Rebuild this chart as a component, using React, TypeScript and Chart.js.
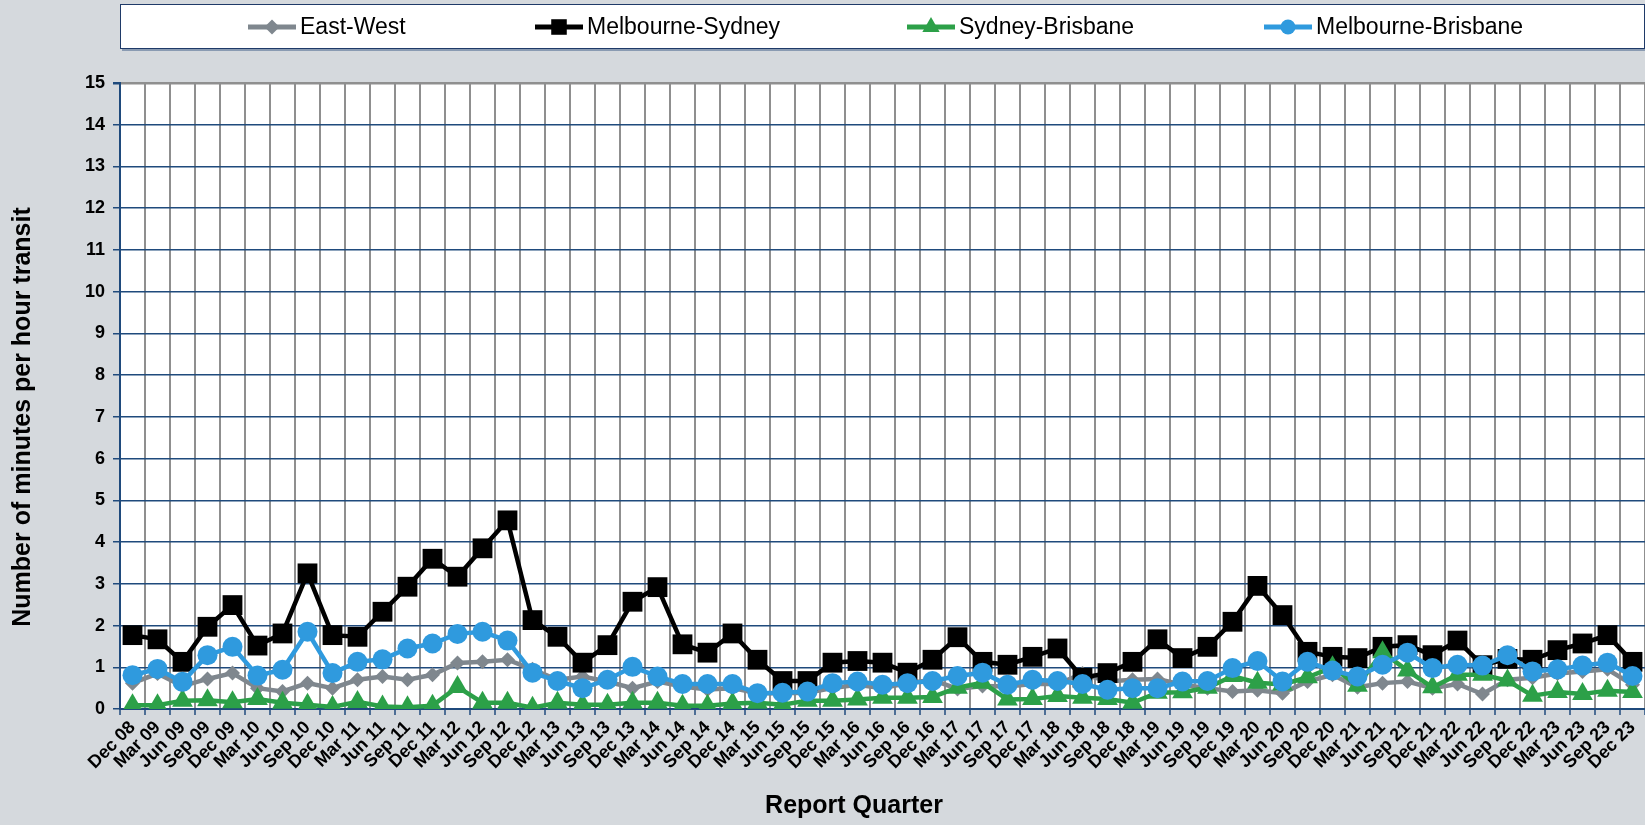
import React, { useEffect, useRef } from 'react';
import { Chart, registerables } from 'chart.js';

Chart.register(...registerables);

const quarterLabels: string[] = [
  'Dec 08', 'Mar 09', 'Jun 09', 'Sep 09', 'Dec 09', 'Mar 10', 'Jun 10', 'Sep 10', 'Dec 10',
  'Mar 11', 'Jun 11', 'Sep 11', 'Dec 11', 'Mar 12', 'Jun 12', 'Sep 12', 'Dec 12',
  'Mar 13', 'Jun 13', 'Sep 13', 'Dec 13', 'Mar 14', 'Jun 14', 'Sep 14', 'Dec 14',
  'Mar 15', 'Jun 15', 'Sep 15', 'Dec 15', 'Mar 16', 'Jun 16', 'Sep 16', 'Dec 16',
  'Mar 17', 'Jun 17', 'Sep 17', 'Dec 17', 'Mar 18', 'Jun 18', 'Sep 18', 'Dec 18',
  'Mar 19', 'Jun 19', 'Sep 19', 'Dec 19', 'Mar 20', 'Jun 20', 'Sep 20', 'Dec 20',
  'Mar 21', 'Jun 21', 'Sep 21', 'Dec 21', 'Mar 22', 'Jun 22', 'Sep 22', 'Dec 22',
  'Mar 23', 'Jun 23', 'Sep 23', 'Dec 23',
];

const eastWest: number[] = [
  0.62, 0.85, 0.55, 0.72, 0.86, 0.5, 0.42, 0.62, 0.5, 0.7,
  0.78, 0.7, 0.82, 1.1, 1.13, 1.18, 0.95, 0.7, 0.78, 0.66,
  0.5, 0.66, 0.54, 0.47, 0.5, 0.38, 0.38, 0.39, 0.5, 0.58,
  0.5, 0.62, 0.7, 0.48, 0.55, 0.54, 0.6, 0.6, 0.85, 0.66,
  0.7, 0.72, 0.58, 0.5, 0.42, 0.45, 0.38, 0.66, 0.82, 0.52,
  0.62, 0.66, 0.5, 0.6, 0.36, 0.7, 0.75, 0.85, 0.9, 0.95, 0.58,
];

const melbourneSydney: number[] = [
  1.77, 1.67, 1.13, 1.97, 2.49, 1.52, 1.81, 3.25, 1.77, 1.73,
  2.33, 2.93, 3.6, 3.17, 3.85, 4.52, 2.13, 1.73, 1.11, 1.53,
  2.57, 2.92, 1.55, 1.35, 1.81, 1.18, 0.67, 0.67, 1.11, 1.15,
  1.11, 0.87, 1.18, 1.72, 1.13, 1.06, 1.25, 1.45, 0.75, 0.86,
  1.13, 1.67, 1.22, 1.49, 2.09, 2.95, 2.25, 1.37, 1.25, 1.22,
  1.49, 1.53, 1.29, 1.64, 1.05, 1.2, 1.18, 1.41, 1.57, 1.77, 1.13,
];

const sydneyBrisbane: number[] = [
  0.09, 0.09, 0.2, 0.21, 0.16, 0.24, 0.15, 0.1, 0.05, 0.17,
  0.06, 0.04, 0.08, 0.53, 0.15, 0.15, 0.03, 0.15, 0.1, 0.1,
  0.15, 0.15, 0.08, 0.08, 0.13, 0.15, 0.1, 0.2, 0.2, 0.23,
  0.27, 0.27, 0.29, 0.51, 0.63, 0.23, 0.24, 0.31, 0.27, 0.24,
  0.15, 0.39, 0.4, 0.51, 0.79, 0.63, 0.59, 0.76, 1.0, 0.56,
  1.36, 0.92, 0.52, 0.82, 0.82, 0.68, 0.32, 0.41, 0.36, 0.44, 0.41,
];

const melbourneBrisbane: number[] = [
  0.81, 0.96, 0.65, 1.29, 1.49, 0.8, 0.94, 1.85, 0.86, 1.13,
  1.19, 1.45, 1.57, 1.8, 1.85, 1.64, 0.87, 0.67, 0.5, 0.7,
  1.01, 0.78, 0.6, 0.6, 0.6, 0.38, 0.39, 0.42, 0.62, 0.66,
  0.58, 0.62, 0.67, 0.79, 0.87, 0.58, 0.7, 0.67, 0.6, 0.46,
  0.5, 0.5, 0.66, 0.67, 0.98, 1.15, 0.66, 1.13, 0.92, 0.78,
  1.06, 1.35, 0.98, 1.06, 1.04, 1.29, 0.9, 0.95, 1.04, 1.11, 0.79,
];

const seriesNames: string[] = ['East-West', 'Melbourne-Sydney', 'Sydney-Brisbane', 'Melbourne-Brisbane'];

const FONT = "'Liberation Sans', Arial, Helvetica, sans-serif";
const BG = '#d5d9dd';
const AXIS_BLUE = '#1f4a7c';
const GRAY_GRID = '#8f8f8f';
const COLORS = {
  ew: '#7f878e',
  ms: '#000000',
  sb: '#2ca048',
  mb: '#2f9ade',
};

function drawMarker(ctx: CanvasRenderingContext2D, style: string, x: number, y: number, r: number, color: string) {
  ctx.fillStyle = color;
  ctx.beginPath();
  if (style === 'circle') {
    ctx.arc(x, y, r, 0, Math.PI * 2);
  } else if (style === 'rect') {
    const s = r * Math.SQRT1_2;
    ctx.rect(x - s, y - s, 2 * s, 2 * s);
  } else if (style === 'triangle') {
    ctx.moveTo(x, y - r);
    ctx.lineTo(x + r * 0.866, y + r / 2);
    ctx.lineTo(x - r * 0.866, y + r / 2);
    ctx.closePath();
  } else {
    ctx.moveTo(x - r, y);
    ctx.lineTo(x, y - r);
    ctx.lineTo(x + r, y);
    ctx.lineTo(x, y + r);
    ctx.closePath();
  }
  ctx.fill();
}

const decorPlugin = {
  id: 'decor',
  beforeDraw(chart: any) {
    const { ctx, chartArea: a, width, height } = chart;
    ctx.save();
    ctx.fillStyle = BG;
    ctx.fillRect(0, 0, width, height);
    ctx.fillStyle = '#ffffff';
    ctx.fillRect(a.left, a.top, a.right - a.left, a.bottom - a.top);
    ctx.restore();
  },
  afterDraw(chart: any) {
    const { ctx } = chart;
    ctx.save();
    // legend box
    ctx.fillStyle = '#8a9bb2';
    ctx.fillRect(122, 48, 1523, 3);
    ctx.fillStyle = '#ffffff';
    ctx.fillRect(120, 4, 1525, 44);
    ctx.strokeStyle = '#1f3a68';
    ctx.lineWidth = 1;
    ctx.strokeRect(120.5, 4.5, 1524, 44);

    const items = [
      { name: seriesNames[0], color: COLORS.ew, style: 'rectRot', r: 7.5, x: 248 },
      { name: seriesNames[1], color: COLORS.ms, style: 'rect', r: 11, x: 535 },
      { name: seriesNames[2], color: COLORS.sb, style: 'triangle', r: 10, x: 907 },
      { name: seriesNames[3], color: COLORS.mb, style: 'circle', r: 7.5, x: 1264 },
    ];
    const ly = 27;
    ctx.font = `23px ${FONT}`;
    ctx.textBaseline = 'middle';
    ctx.textAlign = 'left';
    for (const it of items) {
      ctx.strokeStyle = it.color;
      ctx.lineWidth = 5;
      ctx.beginPath();
      ctx.moveTo(it.x, ly);
      ctx.lineTo(it.x + 48, ly);
      ctx.stroke();
      drawMarker(ctx, it.style, it.x + 24, ly, it.r, it.color);
      ctx.fillStyle = '#000000';
      ctx.fillText(it.name, it.x + 52, ly + 1);
    }

    // axis titles
    ctx.fillStyle = '#000000';
    ctx.font = `bold 25px ${FONT}`;
    ctx.textAlign = 'center';
    ctx.textBaseline = 'middle';
    ctx.fillText('Report Quarter', 854, 806);
    ctx.translate(23, 417);
    ctx.rotate(-Math.PI / 2);
    ctx.fillText('Number of minutes per hour transit', 0, 0);
    ctx.restore();
  },
};

export default function App() {
  const canvasRef = useRef<HTMLCanvasElement | null>(null);

  useEffect(() => {
    if (!canvasRef.current) return;
    const common = {
      tension: 0,
      borderWidth: 4.5,
      pointBorderWidth: 0,
      fill: false,
    };
    const chart = new Chart(canvasRef.current, {
      type: 'line',
      data: {
        labels: quarterLabels,
        datasets: [
          {
            ...common,
            label: seriesNames[3],
            data: melbourneBrisbane,
            borderColor: COLORS.mb,
            backgroundColor: COLORS.mb,
            pointStyle: 'circle',
            pointRadius: 10,
          },
          {
            ...common,
            label: seriesNames[2],
            data: sydneyBrisbane,
            borderColor: COLORS.sb,
            backgroundColor: COLORS.sb,
            pointStyle: 'triangle',
            pointRadius: 12,
          },
          {
            ...common,
            label: seriesNames[1],
            data: melbourneSydney,
            borderColor: COLORS.ms,
            backgroundColor: COLORS.ms,
            pointStyle: 'rect',
            pointRadius: 14,
          },
          {
            ...common,
            label: seriesNames[0],
            data: eastWest,
            borderColor: COLORS.ew,
            backgroundColor: COLORS.ew,
            pointStyle: 'rectRot',
            pointRadius: 7.5,
          },
        ],
      },
      options: {
        responsive: false,
        animation: false,
        devicePixelRatio: 1,
        layout: { autoPadding: false, padding: { top: 83, right: 0, left: 0, bottom: 0 } },
        plugins: {
          legend: { display: false },
          tooltip: { enabled: false },
          title: { display: false },
        },
        scales: {
          x: {
            type: 'category',
            offset: true,
            afterFit(scale: any) {
              scale.height = 116;
              scale.paddingLeft = 0;
              scale.paddingRight = 0;
            },
            grid: {
              offset: true,
              color: GRAY_GRID,
              lineWidth: 2,
              tickColor: AXIS_BLUE,
              tickLength: 6,
              tickWidth: 1.5,
            },
            border: { color: AXIS_BLUE, width: 2 },
            ticks: {
              autoSkip: false,
              maxRotation: 45,
              minRotation: 45,
              padding: 2,
              color: '#000000',
              font: { family: FONT, size: 18, weight: 'bold' },
            },
          },
          y: {
            min: 0,
            max: 15,
            afterFit(scale: any) {
              scale.width = 120;
              scale.paddingTop = 0;
              scale.paddingBottom = 0;
            },
            grid: {
              color: (c: any) => (c.tick && c.tick.value === 15 ? GRAY_GRID : AXIS_BLUE),
              lineWidth: (c: any) => (c.tick && c.tick.value === 15 ? 2.5 : 1.5),
              tickColor: AXIS_BLUE,
              tickLength: 7,
            },
            border: { color: AXIS_BLUE, width: 2 },
            ticks: {
              stepSize: 1,
              padding: 8,
              color: '#000000',
              font: { family: FONT, size: 18, weight: 'bold' },
            },
          },
        },
      },
      plugins: [decorPlugin],
    } as any);
    return () => chart.destroy();
  }, []);

  return (
    <div style={{ position: 'fixed', left: 0, top: 0, width: 1645, height: 825, background: BG }}>
      <canvas ref={canvasRef} width={1645} height={825} style={{ display: 'block' }} />
    </div>
  );
}
